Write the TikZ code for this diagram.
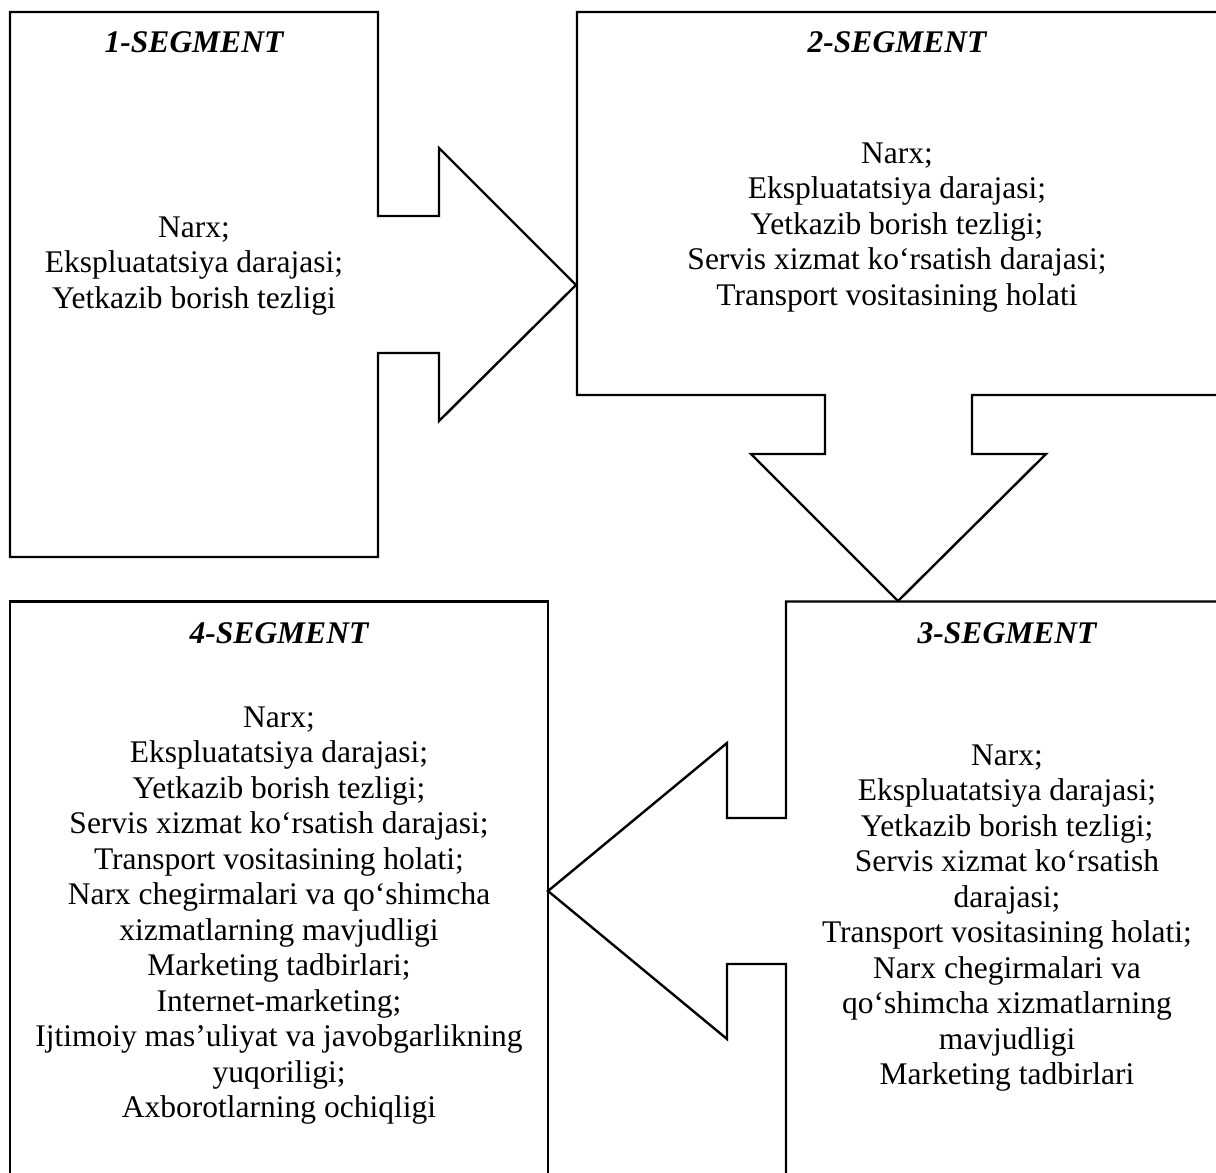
\documentclass[tikz,border=0pt]{standalone}
\usepackage{fontspec}
\setmainfont{Liberation Serif}
\begin{document}
\begin{tikzpicture}[x=1pt,y=-1pt,
  outline/.style={draw=black,line width=2.4pt,line join=miter},
  segtitle/.style={font=\fontsize{31.5}{35.5}\selectfont\bfseries\itshape,anchor=base,inner sep=0pt},
  segbody/.style={font=\fontsize{31.5}{35.5}\selectfont,align=center,anchor=base,inner sep=0pt}]
\useasboundingbox (0,0) rectangle (1216,1173);
\clip (0,0) rectangle (1216,1173);

% segment 1 with its arrow pointing right
\draw[outline] (10,12) -- (378,12) -- (378,216) -- (439,216) -- (439,148)
  -- (576,285) -- (439,421) -- (439,353) -- (378,353) -- (378,557)
  -- (10,557) -- cycle;

% segment 2 with its arrow pointing down
\draw[outline] (1230,12) -- (577,12) -- (577,395) -- (825,395) -- (825,454)
  -- (751,454) -- (898,601) -- (1046,454) -- (972,454) -- (972,395)
  -- (1230,395);

% segment 3 with its arrow pointing left
\draw[outline] (1230,601.5) -- (786,601.5) -- (786,818) -- (727,818)
  -- (727,743) -- (548,891) -- (727,1039) -- (727,964) -- (786,964)
  -- (786,1190);

% segment 4
\draw[outline] (10,1190) -- (10,601.5) -- (548,601.5) -- (548,1190);

% titles
\node[segtitle] (t1) at (194,52) {1-SEGMENT};
\node[segtitle] (t2) at (897,52) {2-SEGMENT};
\node[segtitle] (t3) at (1007,643) {3-SEGMENT};
\node[segtitle] (t4) at (279,643) {4-SEGMENT};

% lists of criteria (anchored at the baseline of the last line)
\node[segbody] (b1) at (194,308) {Narx;\\Ekspluatatsiya darajasi;\\Yetkazib borish tezligi};
\node[segbody] (b2) at (897,305) {Narx;\\Ekspluatatsiya darajasi;\\Yetkazib borish tezligi;\\Servis xizmat ko‘rsatish darajasi;\\Transport vositasining holati};
\node[segbody] (b3) at (1007,1084.5) {Narx;\\Ekspluatatsiya darajasi;\\Yetkazib borish tezligi;\\Servis xizmat ko‘rsatish\\darajasi;\\Transport vositasining holati;\\Narx chegirmalari va\\qo‘shimcha xizmatlarning\\mavjudligi\\Marketing tadbirlari};
\node[segbody] (b4) at (279,1117.5) {Narx;\\Ekspluatatsiya darajasi;\\Yetkazib borish tezligi;\\Servis xizmat ko‘rsatish darajasi;\\Transport vositasining holati;\\Narx chegirmalari va qo‘shimcha\\xizmatlarning mavjudligi\\Marketing tadbirlari;\\Internet-marketing;\\Ijtimoiy mas’uliyat va javobgarlikning\\yuqoriligi;\\Axborotlarning ochiqligi};
\end{tikzpicture}
\end{document}
